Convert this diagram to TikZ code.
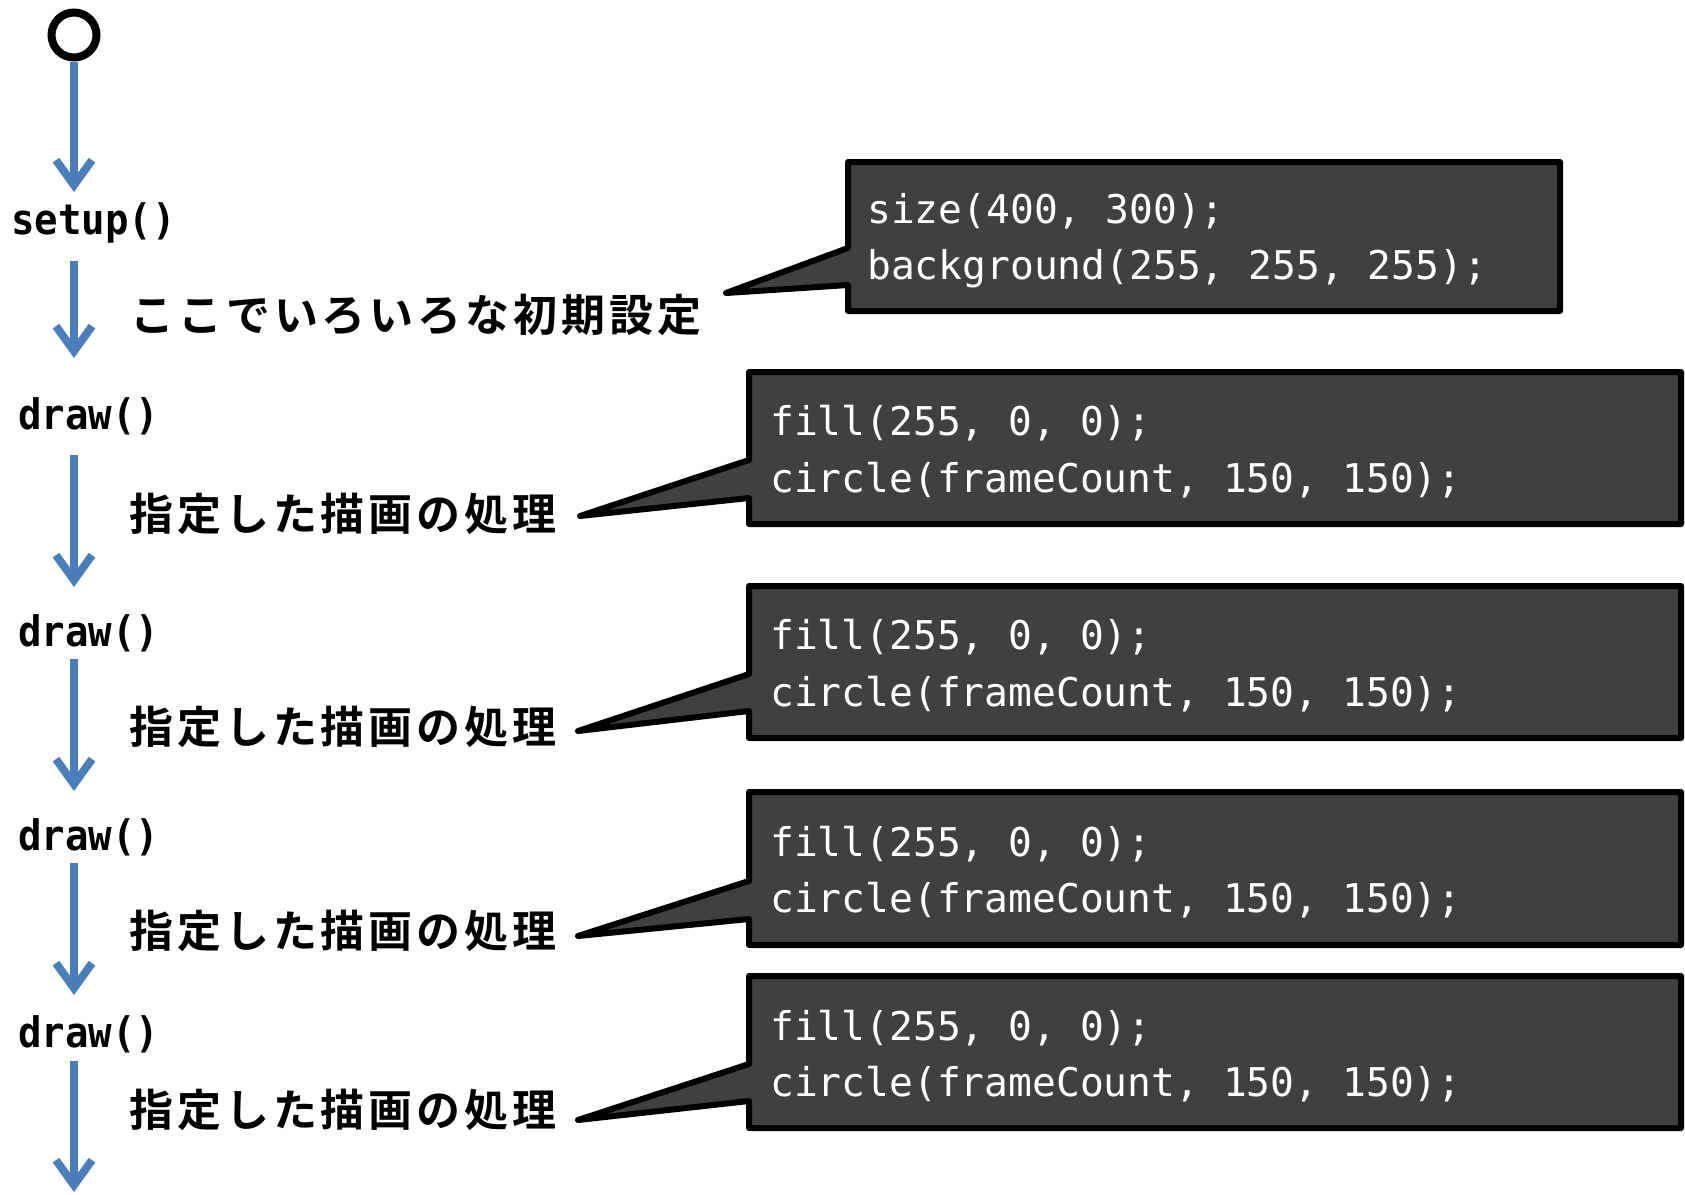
\documentclass[tikz,border=0pt]{standalone}
\usepackage{fontspec}
\setmonofont{DejaVu Sans Mono}
\newfontfamily\jpfont{Noto Sans CJK JP Bold}[LetterSpace=9]
\newfontfamily\labelfont{DejaVu Sans Mono Bold}[FakeStretch=0.93]
\usetikzlibrary{arrows.meta}
\definecolor{flowblue}{RGB}{74,126,187}
\definecolor{codegray}{RGB}{64,64,64}
\begin{document}
\begin{tikzpicture}[x=1pt,y=-1pt,
  flow/.style={draw=flowblue, line width=8pt, -{Straight Barb[length=25pt,width=36pt]}},
  startnode/.style={circle, draw=black, line width=8pt, minimum size=45pt, inner sep=0pt},
  fnlabel/.style={anchor=base west, inner sep=0pt, font=\labelfont\fontsize{42}{44}\selectfont},
  jplabel/.style={anchor=west, inner sep=0pt, font=\jpfont\fontsize{44}{50}\selectfont},
  callout/.style={fill=codegray, draw=black, line width=6pt, line join=round},
  code/.style={anchor=base west, inner sep=0pt, text=white, font=\ttfamily\fontsize{39.6}{45}\selectfont}
]
\useasboundingbox (0,0) rectangle (1685,1194);

% start
\node[startnode] (start) at (74,35) {};

% function labels
\node[fnlabel] (setup) at (11,234) {setup()};
\node[fnlabel] (draw1) at (18,429) {draw()};
\node[fnlabel] (draw2) at (18,646) {draw()};
\node[fnlabel] (draw3) at (18,850) {draw()};
\node[fnlabel] (draw4) at (18,1047) {draw()};

% arrow coordinates
\coordinate (a1e) at (74,192);
\coordinate (a2s) at (74,261); \coordinate (a2e) at (74,358);
\coordinate (a3s) at (74,455); \coordinate (a3e) at (74,587);
\coordinate (a4s) at (74,659); \coordinate (a4e) at (74,791);
\coordinate (a5s) at (74,863); \coordinate (a5e) at (74,995);
\coordinate (a6s) at (74,1061); \coordinate (a6e) at (74,1192);

\draw[flow] (start.south) -- (a1e);
\draw[flow] (a2s) -- (a2e);
\draw[flow] (a3s) -- (a3e);
\draw[flow] (a4s) -- (a4e);
\draw[flow] (a5s) -- (a5e);
\draw[flow] (a6s) -- (a6e);

% Japanese labels
\node[jplabel] (j1) at (130,315) {ここでいろいろな初期設定};
\node[jplabel] (j2) at (129,514) {指定した描画の処理};
\node[jplabel] (j3) at (129,727) {指定した描画の処理};
\node[jplabel] (j4) at (129,931) {指定した描画の処理};
\node[jplabel] (j5) at (129,1110) {指定した描画の処理};

% callouts
\coordinate (t1) at (726,293);
\coordinate (t2) at (580,516);
\coordinate (t3) at (578,731);
\coordinate (t4) at (578,936);
\coordinate (t5) at (578,1120);

\draw[callout] (848,162) -- (1560,162) -- (1560,311) -- (848,311) -- (848,285) -- (t1) -- (848,248) -- cycle;
\draw[callout] (749,372) -- (1681,372) -- (1681,524) -- (749,524) -- (749,498) -- (t2) -- (749,460) -- cycle;
\draw[callout] (749,586) -- (1681,586) -- (1681,738) -- (749,738) -- (749,711) -- (t3) -- (749,674) -- cycle;
\draw[callout] (749,792) -- (1681,792) -- (1681,945) -- (749,945) -- (749,919) -- (t4) -- (749,881) -- cycle;
\draw[callout] (749,976) -- (1681,976) -- (1681,1128) -- (749,1128) -- (749,1101) -- (t5) -- (749,1064) -- cycle;

% code text
\node[code] (c1a) at (867,223) {size(400, 300);};
\node[code] (c1b) at (867,279) {background(255, 255, 255);};
\node[code] (c2a) at (770,435) {fill(255, 0, 0);};
\node[code] (c2b) at (770,492) {circle(frameCount, 150, 150);};
\node[code] (c3a) at (770,649) {fill(255, 0, 0);};
\node[code] (c3b) at (770,706) {circle(frameCount, 150, 150);};
\node[code] (c4a) at (770,856) {fill(255, 0, 0);};
\node[code] (c4b) at (770,912) {circle(frameCount, 150, 150);};
\node[code] (c5a) at (770,1040) {fill(255, 0, 0);};
\node[code] (c5b) at (770,1096) {circle(frameCount, 150, 150);};
\end{tikzpicture}
\end{document}
